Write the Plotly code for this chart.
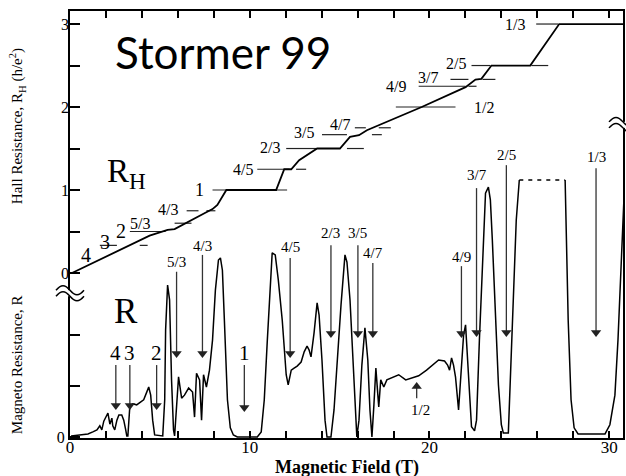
import plotly.graph_objects as go

# ---------------- data ----------------
# Hall resistance trace: magnetic field (T) and R_H (h/e^2)
hall_B = [0.11, 2.88, 4.43, 5.43, 5.82, 7.48, 7.93, 8.20, 8.70, 11.47, 11.92, 12.31,
          12.75, 13.75, 15.02, 15.58, 16.08, 16.52, 17.07, 19.57, 22.01, 22.56, 22.89,
          23.45, 25.61, 27.22, 30.77]
hall_RH = [0.0, 0.29, 0.45, 0.52, 0.53, 0.72, 0.77, 0.82, 1.0, 1.0, 1.25, 1.25,
           1.36, 1.5, 1.5, 1.64, 1.66, 1.72, 1.77, 2.0, 2.24, 2.33, 2.34,
           2.5, 2.5, 3.0, 3.0]

# Magneto resistance trace (arbitrary units); None = off-scale gap
mr_B = [0.06, 0.55, 1.00, 1.27, 1.50, 1.66, 1.77, 1.88, 2.00, 2.11, 2.22, 2.33, 2.38, 2.49,
        2.61, 2.72, 2.88, 2.99, 3.10, 3.16, 3.22, 3.27, 3.33, 3.49, 3.71, 3.94, 4.10, 4.27,
        4.38, 4.49, 4.60, 4.71, 5.16, 5.27, 5.32, 5.43, 5.54, 5.65, 5.76, 5.82, 5.88, 6.04,
        6.21, 6.37, 6.60, 6.82, 6.93, 7.04, 7.21, 7.32, 7.43, 7.59, 7.76, 7.93, 8.09, 8.26,
        8.37, 8.48, 8.59, 8.76, 8.92, 9.09, 9.31, 10.42, 10.64, 10.81, 10.98, 11.14, 11.25,
        11.42, 11.59, 11.81, 12.03, 12.14, 12.31, 12.47, 12.64, 12.86, 13.03, 13.19, 13.30,
        13.41, 13.58, 13.75, 13.86, 14.02, 14.19, 14.30, 14.52, 14.69, 14.86, 15.08, 15.30,
        15.41, 15.58, 15.80, 15.96, 16.08, 16.24, 16.41, 16.57, 16.69, 16.80, 16.91, 17.02,
        17.13, 17.18, 17.29, 17.46, 17.63, 17.90, 18.29, 18.68, 19.01, 19.40, 19.84, 20.23,
        20.51, 20.84, 21.01, 21.12, 21.23, 21.34, 21.45, 21.62, 21.73, 21.90, 22.01, 22.12,
        22.23, 22.34, 22.51, 22.62, 22.78, 22.95, 23.12, 23.28, 23.39, 23.50, 23.67, 23.84,
        24.00, 24.11, 24.39, 24.50, 24.67, 24.83, 25.00, None,
        27.55, 27.61, 27.72, 27.88, 28.05, 28.27, 29.77, 30.04, 30.32, 30.49, 30.65, 30.82]
mr_R = [0.02, 0.04, 0.06, 0.10, 0.14, 0.22, 0.14, 0.31, 0.41, 0.47, 0.25, 0.37, 0.22, 0.14,
        0.33, 0.43, 0.43, 0.33, 0.14, 0.02, 0.02, 0.33, 0.61, 0.65, 0.63, 0.69, 0.73, 0.88,
        0.98, 0.82, 0.33, 0.04, 0.02, 0.73, 2.10, 2.98, 2.69, 1.12, 0.14, 0.02, 0.33, 1.18,
        0.76, 0.82, 0.96, 0.88, 0.39, 1.25, 1.12, 0.33, 1.22, 0.98, 1.31, 1.90, 2.88, 3.47,
        3.51, 3.27, 2.29, 0.73, 0.18, 0.04, 0.0, 0.0, 0.10, 0.73, 1.90, 3.08, 3.61,
        3.57, 3.08, 2.29, 1.22, 1.02, 1.31, 1.35, 1.39, 1.47, 1.67, 1.78, 1.71,
        1.57, 2.04, 2.63, 2.39, 1.51, 0.33, 0.0, 0.0, 0.53, 1.51, 2.59, 3.57,
        3.43, 2.69, 1.12, 0.0, 0.33, 1.41, 2.14, 1.51, 0.53, 0.0, 0.63, 1.35,
        0.82, 0.59, 1.12, 0.98, 1.12, 1.16, 1.22, 1.12, 1.16, 1.20, 1.31, 1.43,
        1.51, 1.49, 1.41, 1.31, 1.55, 1.41, 1.18, 0.53, 1.12, 2.00, 2.20, 1.51,
        0.73, 0.20, 0.12, 0.33, 1.90, 3.47, 4.78, 4.90, 4.65, 3.86, 2.29, 1.02,
        0.24, 0.08, 0.08, 1.12, 2.88, 4.25, 5.04, None,
        5.04, 4.06, 2.29, 0.73, 0.18, 0.06, 0.06, 0.24, 0.82, 1.90, 3.27, 4.65]
# off-scale (dashed) section of the 1/3-2/5 peak
mr_dash_B = [25.00, 27.55]
mr_dash_R = [5.04, 5.04]

# Hall quantised levels: name, R_H value, dash segments (T), label position
lvl_names = ["4", "3", "2", "5/3", "4/3", "1", "4/5", "2/3", "3/5", "4/7",
             "1/2", "4/9", "3/7", "2/5", "1/3"]
lvl_RH = [0.25, 0.333, 0.5, 0.6, 0.75, 1.0, 1.25, 1.5, 1.667, 1.75,
          2.0, 2.25, 2.333, 2.5, 3.0]
lvl_segs = [[],
            [(1.66, 2.61), (3.88, 4.32)],
            [(3.33, 5.32)],
            [(5.82, 6.76)],
            [(6.49, 7.15), (7.59, 8.09)],
            [(7.93, 12.08)],
            [(10.42, 12.20), (12.58, 13.14)],
            [(12.03, 13.69), (15.41, 16.35)],
            [(14.02, 15.41), (16.80, 17.35)],
            [(15.85, 16.46), (17.18, 17.85)],
            [(18.13, 21.45)],
            [(19.40, 22.01), (22.17, 22.62)],
            [(21.17, 22.17), (22.95, 23.67)],
            [(22.34, 23.39), (25.67, 26.61)],
            [(25.94, 27.16)]]
lvl_label_B = [0.89, 1.94, 2.83, 3.90, 5.45, 7.21, 9.62, 11.12, 13.00, 15.02,
               23.05, 18.12, 19.90, 21.45, 24.78]
lvl_label_RH = [0.22, 0.37, 0.51, 0.60, 0.77, 1.0, 1.25, 1.51, 1.69, 1.79,
                1.99, 2.25, 2.36, 2.52, 3.0]
lvl_label_size = [20, 20, 20, 16, 16, 18, 16, 16, 16, 16, 16, 16, 16, 16, 16]

# Magneto-resistance minima arrows (tail -> tip, in R units)
arr_names = ["4", "3", "2", "5/3", "4/3", "1", "4/5", "2/3", "3/5", "4/7",
             "4/9", "3/7", "2/5", "1/3", "1/2"]
arr_B = [2.55, 3.33, 4.82, 5.93, 7.37, 9.70, 12.25, 14.52, 16.02, 16.85,
         21.78, 22.62, 24.28, 29.27, 19.29]
arr_tail = [1.41, 1.41, 1.41, 3.24, 3.57, 1.41, 3.51, 3.76, 3.76, 3.41,
            3.35, 4.88, 5.33, 5.27, 0.76]
arr_tip = [0.53, 0.53, 0.53, 1.55, 1.55, 0.49, 1.55, 1.94, 1.94, 1.94,
           1.94, 1.96, 1.96, 1.96, 1.08]
arr_label_B = [2.55, 3.33, 4.82, 5.93, 7.37, 9.70, 12.25, 14.52, 16.02, 16.85,
               21.78, 22.62, 24.28, 29.27, 19.51]
arr_label_R = [1.65, 1.65, 1.65, 3.43, 3.75, 1.65, 3.73, 4.00, 4.00, 3.61,
               3.53, 5.14, 5.53, 5.49, 0.53]
arr_label_size = [21, 21, 21, 15, 15, 21, 15, 15, 15, 15, 15, 15, 15, 15, 15]

x_major = [0, 10, 20, 30]
x_minor = list(range(0, 31, 2))
hall_major = [0, 1, 2, 3]
hall_minor = [0.5, 1.5, 2.5]
mr_major = [0]
mr_minor = [1, 2]

# ---------------- figure ----------------
SERIF = "Liberation Serif"
R_PER_PX = 1 / 51.0      # R-axis units per pixel (for arrowhead placement)
fig = go.Figure()

# Hall level dashes
dx, dy = [], []
for rh, segs in zip(lvl_RH, lvl_segs):
    for a, b in segs:
        dx += [a, b, None]
        dy += [rh, rh, None]
fig.add_trace(go.Scatter(x=dx, y=dy, yaxis="y2", mode="lines",
                         line=dict(color="#222", width=1.2), hoverinfo="skip"))

fig.add_trace(go.Scatter(x=hall_B, y=hall_RH, yaxis="y2", mode="lines",
                         line=dict(color="black", width=1.8), hoverinfo="skip"))
fig.add_trace(go.Scatter(x=mr_B, y=mr_R, mode="lines", connectgaps=False,
                         line=dict(color="black", width=1.5), hoverinfo="skip"))
fig.add_trace(go.Scatter(x=mr_dash_B, y=mr_dash_R, mode="lines",
                         line=dict(color="black", width=1.5, dash="4px,5px"), hoverinfo="skip"))

# arrows: shafts + heads
sx, sy, hx, hy, hs = [], [], [], [], []
for bx, t0, t1 in zip(arr_B, arr_tail, arr_tip):
    down = t1 < t0
    sgn = 1 if down else -1
    sx += [bx, bx, None]
    sy += [t0, t1 + sgn * 6 * R_PER_PX, None]
    hx.append(bx)
    hy.append(t1 + sgn * 4.5 * R_PER_PX)
    hs.append("triangle-down" if down else "triangle-up")
fig.add_trace(go.Scatter(x=sx, y=sy, mode="lines", line=dict(color="#333", width=1.3),
                         hoverinfo="skip"))
fig.add_trace(go.Scatter(x=hx, y=hy, mode="markers",
                         marker=dict(symbol=hs, size=9, color="#222", line=dict(width=0)),
                         hoverinfo="skip"))

annotations = []
for name, bx, ry, sz in zip(lvl_names, lvl_label_B, lvl_label_RH, lvl_label_size):
    annotations.append(dict(x=bx, y=ry, xref="x", yref="y2", text=name, showarrow=False,
                            font=dict(family=SERIF, size=sz, color="black"),
                            xanchor="center", yanchor="middle"))
for name, lbx, lry, sz in zip(arr_names, arr_label_B, arr_label_R, arr_label_size):
    annotations.append(dict(x=lbx, y=lry, xref="x", yref="y", text=name, showarrow=False,
                            font=dict(family=SERIF, size=sz, color="black"),
                            xanchor="center", yanchor="middle"))

annotations += [
    dict(x=(113 - 70) / 555, y=(438 - 52) / 427, xref="paper", yref="paper", text="Stormer 99",
         showarrow=False, xanchor="left", yanchor="middle",
         font=dict(family="Lato", size=44, color="black")),
    dict(x=(105 - 70) / 555, y=(438 - 173) / 427, xref="paper", yref="paper",
         text="R<sub>H</sub>", showarrow=False, xanchor="left", yanchor="middle",
         font=dict(family=SERIF, size=33, color="black")),
    dict(x=(126 - 70) / 555, y=(438 - 311) / 427, xref="paper", yref="paper",
         text="R", showarrow=False, xanchor="center", yanchor="middle",
         font=dict(family=SERIF, size=35, color="black")),
    dict(x=0.5, y=(438 - 467) / 427, xref="paper", yref="paper",
         text="<b>Magnetic Field (T)</b>", showarrow=False, xanchor="center", yanchor="middle",
         font=dict(family=SERIF, size=18, color="black")),
    dict(x=(17 - 70) / 555, y=(438 - 126) / 427, xref="paper", yref="paper",
         text="Hall Resistance, R<sub>H</sub> (h/e<sup>2</sup>)", textangle=-90, showarrow=False,
         xanchor="center", yanchor="middle", font=dict(family=SERIF, size=15, color="black")),
    dict(x=(17 - 70) / 555, y=(438 - 365) / 427, xref="paper", yref="paper",
         text="Magneto Resistance, R", textangle=-90, showarrow=False,
         xanchor="center", yanchor="middle", font=dict(family=SERIF, size=15, color="black")),
]

# axis-break marks
shapes = []
for xa, ya in [(0, 2.82), (1, 6.12)]:
    shapes.append(dict(type="rect", xref="paper", yref="y", xsizemode="pixel", ysizemode="pixel",
                       xanchor=xa, yanchor=ya, x0=-3, x1=3, y0=-3, y1=3,
                       fillcolor="white", line=dict(width=0), layer="above"))
    for off in (3, -3):
        shapes.append(dict(type="path", xref="paper", yref="y", xsizemode="pixel", ysizemode="pixel",
                           xanchor=xa, yanchor=ya,
                           path=f"M-14,{off} C-9,{off+6} -5,{off+6} 0,{off} S9,{off-6} 14,{off}",
                           line=dict(color="black", width=1.5), layer="above"))

tick_common = dict(ticks="inside", tickwidth=1.5, tickcolor="black")
fig.update_layout(
    width=626, height=476,
    margin=dict(l=70, r=1, t=11, b=38),
    paper_bgcolor="white", plot_bgcolor="white",
    showlegend=False,
    annotations=annotations,
    shapes=shapes,
    xaxis=dict(range=[0, 30.77], tickmode="array", tickvals=x_major, ticklen=7, **tick_common,
               minor=dict(tickmode="array", tickvals=x_minor, ticklen=7, **tick_common),
               showline=True, mirror="ticks", ticklabelstandoff=-8,
               linewidth=2.2, linecolor="black", showgrid=False, zeroline=False,
               tickfont=dict(family=SERIF, size=17, color="black")),
    yaxis=dict(range=[-0.02, 8.353], tickmode="array", tickvals=mr_major, ticklen=10, **tick_common,
               minor=dict(tickmode="array", tickvals=mr_minor, ticklen=10, **tick_common),
               showline=True, mirror=True,
               linewidth=2.2, linecolor="black", showgrid=False, zeroline=False,
               tickfont=dict(family=SERIF, size=16, color="black")),
    yaxis2=dict(range=[-1.988, 3.157], overlaying="y", side="left", anchor="x",
                tickmode="array", tickvals=hall_major, ticklen=10, **tick_common,
                minor=dict(tickmode="array", tickvals=hall_minor, ticklen=10, **tick_common),
                showline=False, showgrid=False, zeroline=False,
                tickfont=dict(family=SERIF, size=16, color="black")),
)

fig.write_html("out.html", config={"displayModeBar": False},
               post_script="document.body.style.margin='0';document.body.style.overflow='hidden';")
